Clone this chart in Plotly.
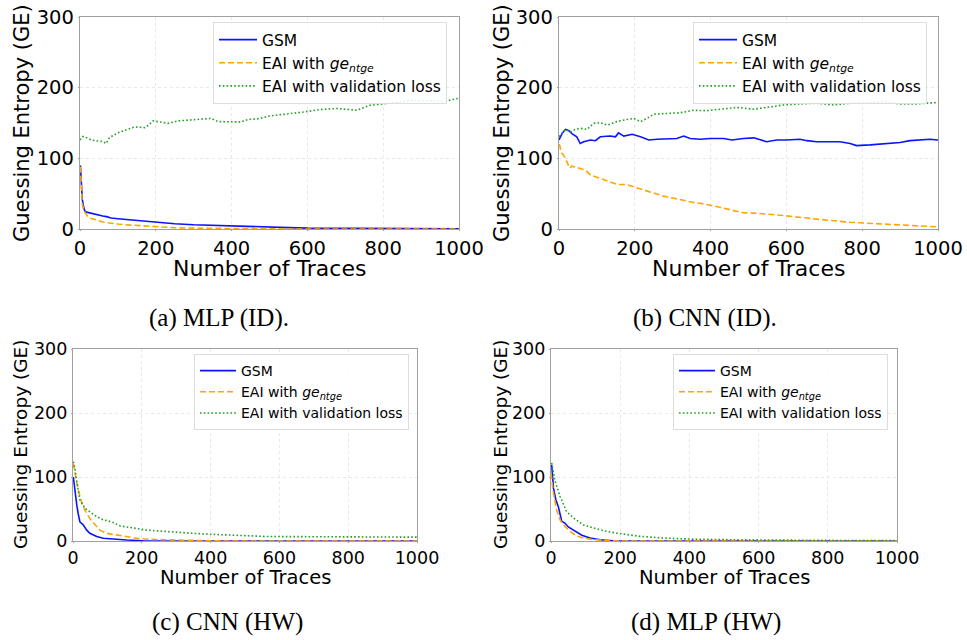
import plotly.graph_objects as go

# ---------------- data ----------------
# (a) MLP (ID)
a_gsm_x = [1, 3, 6, 10, 13, 20, 30, 47, 60, 70, 82, 100, 120, 140, 160, 180, 198, 250, 300, 350, 400, 450, 500, 550, 600, 700, 800, 900, 1000]
a_gsm_y = [90, 62, 42, 30, 25, 23.5, 22, 20, 18.5, 17.5, 15.5, 14.5, 13.5, 12.5, 11.5, 10.5, 10, 7.5, 6, 5, 4, 3.5, 3, 2, 1.2, 0.8, 0.5, 0.3, 0.2]
a_ge_x = [1, 3, 6, 10, 15, 20, 30, 40, 50, 60, 70, 80, 100, 120, 150, 180, 200, 250, 300, 350, 400, 450, 500, 600, 700, 800, 1000]
a_ge_y = [88, 55, 36, 26, 21, 18, 15, 13, 11, 10, 9, 8, 7, 6, 4.8, 3.6, 3, 1.8, 1.2, 0.8, 0.5, 0.3, 0.2, 0, 0, 0, 0]
a_val_x = [0, 8, 14, 30, 47, 61, 69, 78, 100, 127, 144, 171, 181, 193, 210, 232, 259, 285, 312, 346, 364, 399, 426, 443, 470, 501, 545, 589, 633, 677, 712, 730, 765, 800, 836, 871, 923, 958, 1000]
a_val_y = [126, 131, 130, 126, 124.5, 123.5, 121, 129.5, 136, 141, 144.5, 143.5, 147, 153, 151, 149.5, 153, 154, 155, 156.5, 152, 152, 151.5, 155, 156, 160, 162.5, 165.5, 169, 170.5, 169, 168, 175, 177, 179.5, 181.5, 181.5, 180.5, 185]

# (b) CNN (ID)
b_gsm_x = [0, 8, 17, 26, 34, 47, 56, 65, 83, 96, 109, 135, 149, 157, 171, 193, 215, 237, 259, 285, 311, 329, 346, 373, 399, 435, 456, 487, 514, 548, 574, 601, 636, 654, 680, 715, 741, 768, 785, 821, 847, 873, 900, 926, 953, 979, 1000]
b_gsm_y = [126, 135, 141, 139, 135, 130.5, 121, 123.5, 126, 125, 130.5, 131.5, 130.5, 136, 131.5, 134, 130.5, 126, 127, 127, 128, 131.5, 128, 127, 128, 128, 126, 128, 129, 123.5, 126, 126, 127, 125, 123.5, 123.5, 123.5, 121, 118, 119, 120, 121, 122.5, 125, 126, 127, 126]
b_ge_x = [0, 2, 5, 12, 21, 28, 34, 56, 69, 83, 109, 135, 153, 171, 184, 201, 223, 250, 276, 303, 329, 355, 382, 408, 435, 461, 487, 514, 592, 680, 768, 856, 940, 1000]
b_ge_y = [120, 118.5, 109, 104.5, 95, 86, 89, 86, 83.5, 76.5, 71.5, 67, 63, 63, 62, 59, 55, 50.5, 46.5, 43.5, 40, 37.5, 35.5, 33, 29.5, 26, 23, 22.5, 19, 14, 9.5, 7, 5, 3]
b_val_x = [0, 8, 17, 30, 43, 56, 74, 91, 109, 127, 153, 179, 197, 215, 232, 250, 285, 320, 355, 390, 426, 470, 514, 548, 592, 636, 680, 724, 768, 812, 856, 900, 944, 1000]
b_val_y = [130.5, 135, 141, 137.5, 141, 142.5, 141, 149.5, 150.5, 147, 152, 155, 156.5, 152, 156.5, 162.5, 163.5, 164.5, 168, 167.5, 169.5, 172, 169.5, 172, 175.5, 177, 178, 175.5, 178, 178.5, 180, 177, 177, 179]

# (c) CNN (HW)
c_gsm_x = [1, 6, 11, 15, 20, 30, 40, 49, 69, 88, 117, 156, 204, 260, 300, 1000]
c_gsm_y = [100, 74.5, 56, 43, 30, 25, 17, 12, 7, 4.2, 2.6, 1.6, 0.5, 0, 0, 0]
c_ge_x = [1, 6, 15, 25, 35, 49, 64, 78, 98, 127, 156, 185, 224, 282, 380, 450, 1000]
c_ge_y = [121, 106, 80, 61, 48, 35, 25, 17, 12, 9.4, 5.7, 4.2, 2.6, 1.6, 0.5, 0, 0]
c_val_x = [1, 6, 11, 20, 35, 49, 69, 88, 112, 137, 175, 214, 253, 311, 379, 447, 505, 563, 700, 800, 1000]
c_val_y = [124, 112, 93, 64, 51, 46, 38, 33, 30, 23.5, 20, 17, 15.5, 13, 11, 9.5, 8.3, 7, 6.7, 6.4, 6]

# (d) MLP (HW)
d_gsm_x = [2, 7, 14, 21, 31, 40, 50, 69, 89, 113, 142, 180, 220, 1000]
d_gsm_y = [119, 83, 64.5, 54, 31, 28, 22, 15, 9, 4.7, 2, 0.5, 0, 0]
d_ge_x = [0, 7, 16, 26, 40, 55, 74, 94, 123, 161, 200, 1000]
d_ge_y = [106, 75, 49, 33, 23, 15, 8, 4.7, 2, 0.5, 0, 0]
d_val_x = [2, 12, 26, 45, 65, 94, 132, 161, 200, 257, 325, 402, 518, 662, 800, 1000]
d_val_y = [122, 93, 70, 46, 36, 25, 19, 15, 11.5, 7.3, 4.7, 3, 2, 1, 0.9, 0.8]

x_ticks = [0, 200, 400, 600, 800, 1000]
y_ticks = [0, 100, 200, 300]
series_names = ["GSM", "EAI with <i>ge</i><sub><i>ntge</i></sub>", "EAI with validation loss"]
captions = ["(a) MLP (ID).", "(b) CNN (ID).", "(c) CNN (HW)", "(d) MLP (HW)"]

panels = [
    (a_gsm_x, a_gsm_y, a_ge_x, a_ge_y, a_val_x, a_val_y),
    (b_gsm_x, b_gsm_y, b_ge_x, b_ge_y, b_val_x, b_val_y),
    (c_gsm_x, c_gsm_y, c_ge_x, c_ge_y, c_val_x, c_val_y),
    (d_gsm_x, d_gsm_y, d_ge_x, d_ge_y, d_val_x, d_val_y),
]

# ---------------- layout geometry (pixels) ----------------
W, H = 967, 640
plot_boxes = [  # left, right, top, bottom
    (80, 459, 17, 229),
    (559, 938, 17, 229),
    (73, 417, 349, 541),
    (551, 897, 349, 541),
]
legend_pos = [(213, 22), (693, 22), (194, 354), (673, 354)]
legend_itemwidth = [38, 38, 36, 36]
caption_pos = [(219, 318), (705, 318), (227, 622), (706, 622)]
ytitle_x = [22, 502, 20, 500]
xtitle_y = [268, 268, 577, 577]
tick_font = [19.5, 19.5, 17.5, 17.5]
xtitle_font = [22, 22, 19.5, 19.5]
ytitle_font = [21, 21, 18.5, 18.5]
legend_font = [15.5, 15.5, 14, 14]

colors = ["#0a14ff", "#ffa500", "#23a023"]
dashes = ["solid", "6px,3px", "1.6px,2.2px"]

fig = go.Figure()
annotations = []
layout = dict(
    template="none",
    width=W, height=H,
    margin=dict(l=0, r=0, t=0, b=0, pad=0, autoexpand=False),
    paper_bgcolor="white", plot_bgcolor="white",
    font=dict(family="DejaVu Sans", color="black"),
    showlegend=True,
    hovermode=False,
)

for i, (box, data) in enumerate(zip(plot_boxes, panels)):
    l, r, t, b = box
    suf = "" if i == 0 else str(i + 1)
    xa = "x" + suf
    ya = "y" + suf
    leg = "legend" if i == 0 else "legend" + str(i + 1)
    for k in range(3):
        fig.add_trace(go.Scatter(
            x=data[2 * k], y=data[2 * k + 1], mode="lines",
            name=series_names[k],
            line=dict(color=colors[k], width=1.6, dash=dashes[k]),
            xaxis=xa, yaxis=ya, legend=leg,
        ))
    common = dict(
        showgrid=True, gridcolor="#e2e2e2", gridwidth=0.8, griddash="dot",
        showline=True, linecolor="#a0a0a0", linewidth=1.2, mirror=True,
        ticks="outside", ticklen=1, tickcolor="#a0a0a0",
        tickfont=dict(size=tick_font[i], family="DejaVu Sans", color="black"),
        zeroline=False, automargin=False,
    )
    layout["xaxis" + suf] = dict(
        common, domain=[l / W, r / W], range=[0, 1000], tickvals=x_ticks,
        anchor=ya,
    )
    layout["yaxis" + suf] = dict(
        common, domain=[1 - b / H, 1 - t / H], range=[0, 300], tickvals=y_ticks,
        anchor=xa,
    )
    lx, ly = legend_pos[i]
    layout[leg] = dict(
        x=lx / W, y=1 - ly / H, xanchor="left", yanchor="top",
        bgcolor="rgba(255,255,255,0.85)", bordercolor="#dddddd", borderwidth=1,
        font=dict(size=legend_font[i], family="DejaVu Sans", color="black"),
        itemwidth=legend_itemwidth[i],
    )
    # axis titles
    annotations.append(dict(
        text="Number of Traces", x=(l + r) / 2 / W, y=1 - xtitle_y[i] / H,
        xref="paper", yref="paper", xanchor="center", yanchor="middle",
        showarrow=False, font=dict(size=xtitle_font[i], family="DejaVu Sans", color="black"),
    ))
    annotations.append(dict(
        text="Guessing Entropy (GE)", x=ytitle_x[i] / W, y=1 - (t + b) / 2 / H,
        xref="paper", yref="paper", xanchor="center", yanchor="middle",
        textangle=-90, showarrow=False,
        font=dict(size=ytitle_font[i], family="DejaVu Sans", color="black"),
    ))
    cx, cy = caption_pos[i]
    annotations.append(dict(
        text=captions[i], x=cx / W, y=1 - cy / H,
        xref="paper", yref="paper", xanchor="center", yanchor="middle",
        showarrow=False, font=dict(size=25, family="Liberation Serif", color="black"),
    ))

layout["annotations"] = annotations
fig.update_layout(**layout)
fig.write_html(
    "out.html",
    config={"displayModeBar": False, "staticPlot": True},
    post_script="document.body.style.margin='0px';",
)
